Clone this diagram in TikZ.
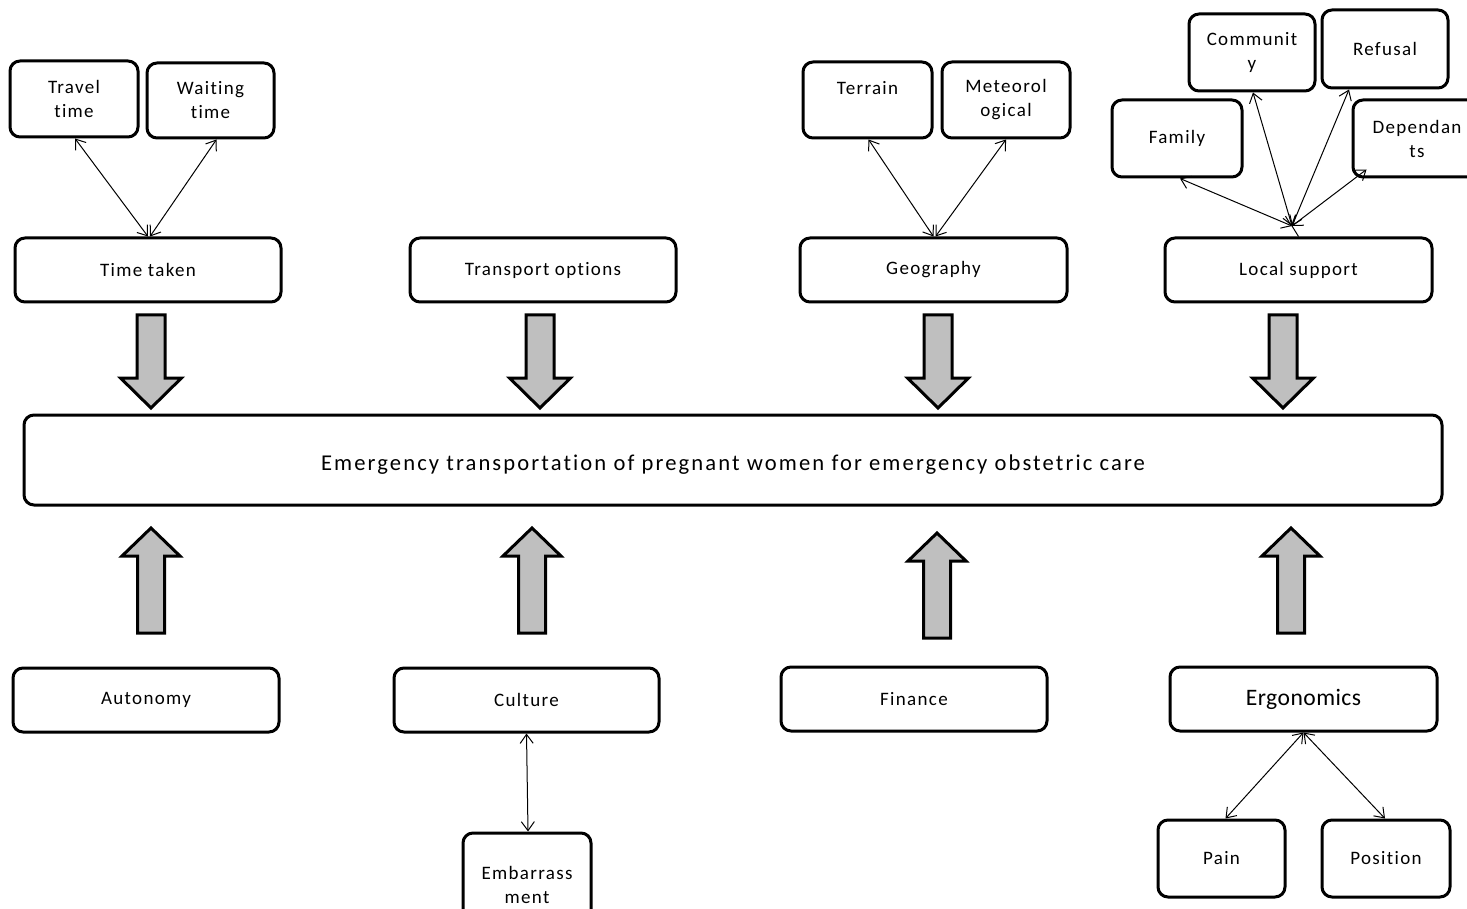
\documentclass[tikz,border=0pt]{standalone}
\usepackage{fontspec}
\setmainfont{Carlito}[LetterSpace=7, Ligatures=NoCommon]
\usetikzlibrary{arrows.meta}
\tikzset{
  box/.style={draw=black, line width=1.5pt, rounded corners=5pt, fill=white,
    align=center, inner sep=1pt, font=\fontsize{9.5}{12}\selectfont},
  link/.style={line width=0.5pt, {Straight Barb[length=4.5pt,width=6.5pt]}-{Straight Barb[length=4.5pt,width=6.5pt]}},
  blockarrow/.style={draw=black, line width=1.5pt, fill=gray!50!white, line join=miter},
  blockdown/.pic={\draw[blockarrow] (-14,0) -- (14,0) -- (14,63) -- (30.5,63) -- (0,93) -- (-30.5,63) -- (-14,63) -- cycle;},
  blockup/.pic={\draw[blockarrow] (-13.5,105) -- (13.5,105) -- (13.5,28) -- (29,28) -- (0,0) -- (-29,28) -- (-13.5,28) -- cycle;}
}
\begin{document}
\begin{tikzpicture}[x=0.5pt,y=-0.5pt]
\useasboundingbox (0,0) rectangle (1467,909);
\clip (0,0) rectangle (1467,909);

% top row sub-boxes
\node[box, minimum width=64pt, minimum height=38pt] (travel) at (74,99) {Travel\\time};
\node[box, minimum width=63.5pt, minimum height=37.5pt] (waiting) at (210.5,100.5) {Waiting\\time};
\node[box, minimum width=64.5pt, minimum height=38pt] (terrain) at (867.5,100) {Terrain\\~};
\node[box, minimum width=64pt, minimum height=38pt] (meteo) at (1006,100) {Meteorol\\ogical};
\node[box, minimum width=63pt, minimum height=38.5pt] (community) at (1252,52.5) {Communit\\y};
\node[box, minimum width=63pt, minimum height=39pt] (refusal) at (1385,49) {Refusal};
\node[box, minimum width=65pt, minimum height=38.5pt] (family) at (1177,138.5) {Family};
\node[box, minimum width=64pt, minimum height=38.5pt] (depend) at (1417,138.5) {Dependan\\ts};

% main factor boxes
\node[box, minimum width=133pt, minimum height=32pt] (time) at (148,270) {Time taken};
\node[box, minimum width=133pt, minimum height=32pt] (transport) at (543,270) {Transport options};
\node[box, minimum width=133.5pt, minimum height=32pt] (geo) at (933.5,270) {Geography};
\node[box, minimum width=133.5pt, minimum height=32pt] (local) at (1298.5,270) {Local support};

\node[box, minimum width=709pt, minimum height=45pt, text height=12.5pt, text depth=2.3pt,
  font=\fontsize{11.3}{14}\selectfont\addfontfeature{LetterSpace=9.3}] (main) at (733,460)
  {Emergency transportation of pregnant women for emergency obstetric care};

\node[box, minimum width=133pt, minimum height=32pt] (autonomy) at (146,700) {Autonomy};
\node[box, minimum width=132.5pt, minimum height=32pt] (culture) at (526.5,700) {Culture};
\node[box, minimum width=133pt, minimum height=32pt] (finance) at (914,699) {Finance};
\node[box, minimum width=133.5pt, minimum height=32pt, font=\fontsize{11.8}{14}\selectfont\addfontfeature{LetterSpace=2}] (ergo) at (1303.5,699) {Ergonomics};

\node[box, minimum width=64pt, minimum height=52pt] (embar) at (527,885) {Embarrass\\ment};
\node[box, minimum width=63.5pt, minimum height=38.5pt] (pain) at (1221.5,858.5) {Pain};
\node[box, minimum width=64pt, minimum height=38.5pt] (position) at (1386,858.5) {Position};

% block arrows
\pic at (151,315) {blockdown};
\pic at (540,315) {blockdown};
\pic at (938,315) {blockdown};
\pic at (1283,315) {blockdown};
\pic at (151,528) {blockup};
\pic at (532,528) {blockup};
\pic at (937,533) {blockup};
\pic at (1291,528) {blockup};

% connectors
\draw[link] ([xshift=0.5pt]travel.south) -- (time.north);
\draw[link] ([xshift=3pt]waiting.south) -- ([xshift=1pt]time.north);
\draw[link] ([xshift=0.5pt]terrain.south) -- (geo.north);
\draw[link] (meteo.south) -- ([xshift=1pt]geo.north);

\coordinate (hub) at (1292,226);
\draw[line width=0.5pt] (hub) -- (local.north);
\draw[link] ([xshift=1.5pt]family.south) -- (hub);
\draw[link] ([xshift=0.5pt]community.south) -- (hub);
\draw[link] ([xshift=-18pt]refusal.south) -- (hub);
\draw[link] ([xshift=7.5pt,yshift=4.5pt]depend.south west) -- (hub);

\draw[link] (culture.south) -- ([xshift=0.5pt]embar.north);
\draw[link] (ergo.south) -- ([xshift=2pt]pain.north);
\draw[link] (ergo.south) -- ([xshift=-0.5pt]position.north);
\end{tikzpicture}
\end{document}
